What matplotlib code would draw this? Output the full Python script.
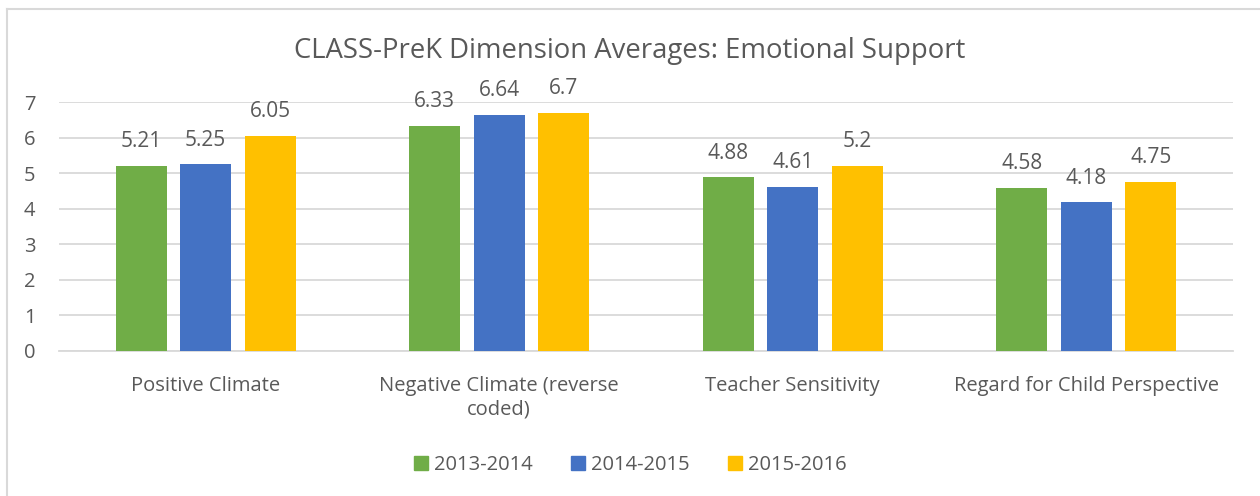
import matplotlib
matplotlib.use("Agg")
import matplotlib.pyplot as plt
import numpy as np
from matplotlib.lines import Line2D

categories = ["Positive Climate", "Negative Climate (reverse\ncoded)",
              "Teacher Sensitivity", "Regard for Child Perspective"]
series_names = ["2013-2014", "2014-2015", "2015-2016"]
v2013 = [5.21, 6.33, 4.88, 4.58]
v2014 = [5.25, 6.64, 4.61, 4.18]
v2015 = [6.05, 6.7, 5.2, 4.75]
labels2013 = ["5.21", "6.33", "4.88", "4.58"]
labels2014 = ["5.25", "6.64", "4.61", "4.18"]
labels2015 = ["6.05", "6.7", "5.2", "4.75"]
yticks = [0, 1, 2, 3, 4, 5, 6, 7]

colors = ["#70AD47", "#4472C4", "#FFC000"]
text_color = "#595959"
grid_color = "#D9D9D9"

plt.rcParams['font.family'] = ['Open Sans', 'DejaVu Sans']

W, H = 1260, 496
fig = plt.figure(figsize=(W / 100, H / 100), dpi=100)

# chart border (left & top visible)
fig.add_artist(Line2D([7 / W, 7 / W], [0, 1 - 9 / H], transform=fig.transFigure,
                      color=grid_color, lw=1.5))
fig.add_artist(Line2D([7 / W, 1], [1 - 9 / H, 1 - 9 / H], transform=fig.transFigure,
                      color=grid_color, lw=1.5))

left, right = 59 / W, 1233 / W
bottom = 1 - 351 / H
top = 1 - 102 / H
ax = fig.add_axes([left, bottom, right - left, top - bottom])

x = np.arange(len(categories))
bw = 51 / 293.5
step = 64.5 / 293.5
all_vals = [v2013, v2014, v2015]
all_labels = [labels2013, labels2014, labels2015]
for i, (vals, labs) in enumerate(zip(all_vals, all_labels)):
    pos = x + (i - 1) * step
    ax.bar(pos, vals, width=bw, color=colors[i], label=series_names[i], zorder=3)
    for p, v, l in zip(pos, vals, labs):
        ax.text(p, v + 0.68, l, ha="center", va="center", fontsize=15,
                color=text_color, zorder=4)

ax.set_xlim(-0.5, len(categories) - 0.5)
ax.set_ylim(0, 7)
ax.set_yticks(yticks)
ax.set_yticklabels([str(t) for t in yticks])
ax.yaxis.grid(True, color=grid_color, lw=1.3, zorder=0)
ax.set_axisbelow(True)
for s in ["top", "right", "left"]:
    ax.spines[s].set_visible(False)
ax.spines["bottom"].set_color(grid_color)
ax.spines["bottom"].set_linewidth(1.3)
ax.tick_params(axis="y", length=0, pad=17, labelsize=14.5, labelcolor=text_color)
ax.tick_params(axis="x", length=0, pad=18, labelsize=14.5, labelcolor=text_color)
ax.set_xticks(x)
ax.set_xticklabels(categories, linespacing=1.25)

fig.text(0.5, 1 - 51 / H, "CLASS-PreK Dimension Averages: Emotional Support",
         ha="center", va="center", fontsize=19.8, color=text_color)

handles = [plt.Rectangle((0, 0), 1, 1, color=c) for c in colors]
fig.legend(handles, series_names, loc="center", bbox_to_anchor=(0.5, 1 - 465 / H),
           ncol=3, frameon=False, fontsize=14.5, handlelength=0.7, handleheight=0.7,
           handletextpad=0.3, columnspacing=1.9, labelcolor=text_color)

fig.savefig("out.png", dpi=100)
